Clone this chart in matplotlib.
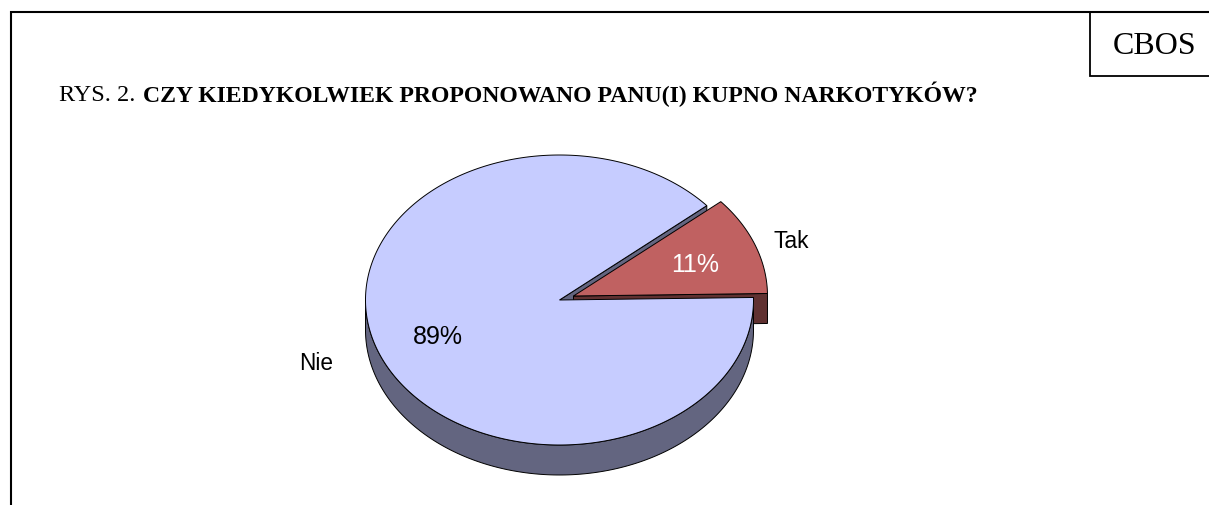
import numpy as np
import matplotlib
matplotlib.use('Agg')
import matplotlib.pyplot as plt

W, H = 1209, 506

labels = ['Tak', 'Nie']
values = [11, 89]
pct_labels = ['11%', '89%']

START = 1.0  # angle where the Tak slice begins
CX, CY = 559.5, 301.0
RX, RY = 194.0, 145.0
DEPTH = 30
OFFSET = (14.0, -4.0)  # how far the Tak slice is pulled out

C_NIE, C_NIE_DARK = '#C6CCFF', '#636580'
C_TAK, C_TAK_DARK = '#C06161', '#603131'
SERIF = 'Liberation Serif'
SANS = 'Liberation Sans'


def sector(a1, a2, cx, cy, n=200):
	t = np.radians(np.linspace(a1, a2, n))
	x = np.concatenate([[cx], cx + RX * np.cos(t)])
	y = np.concatenate([[cy], cy - RY * np.sin(t)])
	return x, y


fig = plt.figure(figsize=(W / 100, H / 100), dpi=100)
ax = fig.add_axes([0, 0, 1, 1])
ax.set_xlim(0, W)
ax.set_ylim(H, 0)
ax.axis('off')

tak_end = START + values[0] / sum(values) * 360
tx, ty = CX + OFFSET[0], CY + OFFSET[1]

# cut wall of the big slice, seen through the gap
e = np.radians(tak_end)
ex, ey = CX + RX * np.cos(e), CY - RY * np.sin(e)
ax.fill([CX, ex, ex, CX], [CY, ey, ey + DEPTH, CY + DEPTH], fc=C_NIE_DARK, ec='black', lw=0.7, zorder=1)

# Tak slice
s = np.radians(START)
sx, sy = tx + RX * np.cos(s), ty - RY * np.sin(s)
ax.fill([tx, sx, sx, tx], [ty, sy, sy + DEPTH, ty + DEPTH], fc=C_TAK_DARK, ec='black', lw=0.7, zorder=2)
x, y = sector(START, tak_end, tx, ty)
ax.fill(x, y, fc=C_TAK, ec='black', lw=0.7, zorder=3)

# Nie slice, outer wall then top
t = np.radians(np.linspace(180, 360 + START, 200))
wx = CX + RX * np.cos(t)
wy = CY - RY * np.sin(t)
ax.fill(np.concatenate([wx, wx[::-1]]), np.concatenate([wy, wy[::-1] + DEPTH]),
		fc=C_NIE_DARK, ec='black', lw=0.7, zorder=4)
x, y = sector(tak_end, 360 + START, CX, CY, 400)
ax.fill(x, y, fc=C_NIE, ec='black', lw=0.7, zorder=5)

ax.text(695, 271.5, pct_labels[0], color='white', family=SANS, fontsize=18, ha='center', va='baseline', zorder=6)
ax.text(438, 344.5, pct_labels[1], color='black', family=SANS, fontsize=18, ha='center', va='baseline', zorder=6)
ax.text(773, 248, labels[0], color='black', family=SANS, fontsize=16.5, ha='left', va='baseline', zorder=6)
ax.text(299, 370, labels[1], color='black', family=SANS, fontsize=16.3, ha='left', va='baseline', zorder=6)

# frame and CBOS box
ax.plot([11, 11, W], [H, 13, 13], color='black', lw=1.5, solid_joinstyle='miter')
ax.plot([1090, 1090, W], [13, 77, 77], color='black', lw=1.3, solid_joinstyle='miter')
ax.text(1154.5, 54, 'CBOS', color='black', family=SERIF, fontsize=23, ha='center', va='baseline')

# title, two weights; the accent on the bold part shifts its baseline so they need different y
ax.text(59, 100.5, 'RYS. 2.', color='black', family=SERIF, fontsize=17.5, ha='left', va='baseline')
ax.text(143, 102.5, 'CZY KIEDYKOLWIEK PROPONOWANO PANU(I) KUPNO NARKOTYKÓW?', color='black', family=SERIF,
		fontsize=17.1, fontweight='bold', ha='left', va='baseline')

fig.savefig('out.png', dpi=100)
